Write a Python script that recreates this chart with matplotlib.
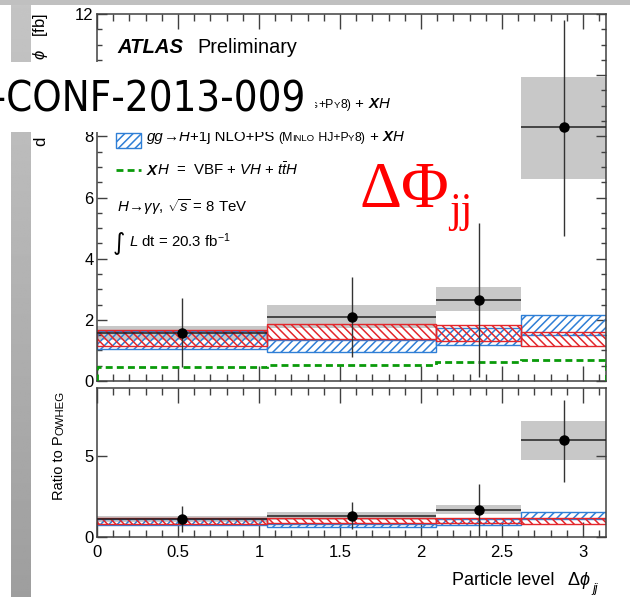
import numpy as np
import matplotlib
matplotlib.use("Agg")
import matplotlib.pyplot as plt
from matplotlib.patches import Rectangle
from matplotlib.lines import Line2D
from matplotlib.ticker import MultipleLocator, FuncFormatter

# ---- measured cross sections in bins of delta-phi_jj ----
edges = np.array([0.0, np.pi / 3, 2 * np.pi / 3, 5 * np.pi / 6, np.pi])
data = np.array([1.57, 2.10, 2.66, 8.30])
tot_lo = np.array([0.46, 0.79, 0.13, 4.75])
tot_hi = np.array([2.72, 3.41, 5.18, 11.80])
sys_lo = np.array([1.34, 1.72, 2.28, 6.62])
sys_hi = np.array([1.81, 2.49, 3.08, 9.93])

# ---- predictions ----
powheg = np.array([1.42, 1.60, 1.58, 1.39])
powheg_lo = np.array([1.14, 1.37, 1.32, 1.13])
powheg_hi = np.array([1.67, 1.87, 1.84, 1.60])
minlo_lo = np.array([1.05, 0.94, 1.18, 1.52])
minlo_hi = np.array([1.62, 1.33, 1.74, 2.16])
xh = np.array([0.47, 0.52, 0.61, 0.69])

RED = "#e3262b"
BLUE = "#2f7fd6"
GREEN = "#0a9a0a"
GREY = "#c8c8c8"
AXC = "#404040"

W, H = 630, 597
plt.rcParams["font.family"] = ["Liberation Sans", "DejaVu Sans"]
plt.rcParams["mathtext.fontset"] = "custom"
plt.rcParams["mathtext.rm"] = "Liberation Sans"
plt.rcParams["mathtext.it"] = "Liberation Sans:italic"
plt.rcParams["mathtext.bf"] = "Liberation Sans:bold"
plt.rcParams["hatch.linewidth"] = 1.1

fig = plt.figure(figsize=(W / 100, H / 100), dpi=100)


def fx(x):
    return x / W


def fy(y):
    return 1 - y / H


centers = 0.5 * (edges[:-1] + edges[1:])
widths = np.diff(edges)
DASH = (0, (2.5, 1.5))


def draw_panel(ax, d, tlo, thi, slo, shi, plo, phi, mlo, mhi, green=None):
    ax.bar(edges[:-1], shi - slo, bottom=slo, width=widths, align="edge",
           color=GREY, lw=0, zorder=1)
    ax.bar(edges[:-1], mhi - mlo, bottom=mlo, width=widths, align="edge",
           fill=False, edgecolor=BLUE, hatch="////", lw=1.0, zorder=2)
    ax.bar(edges[:-1], phi - plo, bottom=plo, width=widths, align="edge",
           fill=False, edgecolor=RED, hatch="\\\\\\\\", lw=1.0, zorder=2)
    if green is not None:
        ax.stairs(green, edges, color=GREEN, lw=2.0, ls=DASH, zorder=3)
    ax.hlines(d, edges[:-1], edges[1:], color="#222222", lw=1.1, zorder=4)
    ax.vlines(centers, tlo, thi, color="#333333", lw=1.0, zorder=4)
    ax.plot(centers, d, "o", color="black", ms=6.5, zorder=5)
    ax.set_xlim(0, np.pi)
    for s in ax.spines.values():
        s.set_color(AXC)
        s.set_linewidth(1.1)
    ax.xaxis.set_major_locator(MultipleLocator(0.5))
    ax.xaxis.set_minor_locator(MultipleLocator(0.1))
    ax.tick_params(which="both", direction="in", top=True, right=True,
                   colors=AXC, labelcolor="black", labelsize=12, width=1.0)
    ax.tick_params(axis="x", which="major", length=10.5, pad=6)
    ax.tick_params(axis="x", which="minor", length=5)
    ax.tick_params(axis="y", which="major", length=7, pad=2.5)
    ax.tick_params(axis="y", which="minor", length=3.6)


# ---- upper panel: cross section ----
ax1 = fig.add_axes([fx(97), fy(381), 509 / W, 367 / H])
draw_panel(ax1, data, tot_lo, tot_hi, sys_lo, sys_hi,
           powheg_lo, powheg_hi, minlo_lo, minlo_hi, green=xh)
ax1.set_ylim(0, 12)
ax1.yaxis.set_major_locator(MultipleLocator(2))
ax1.yaxis.set_minor_locator(MultipleLocator(0.5))
ax1.tick_params(axis="x", labelbottom=False)

# ---- lower panel: ratio to POWHEG ----
ax2 = fig.add_axes([fx(97), fy(537), 509 / W, 149 / H])
draw_panel(ax2, data / powheg, tot_lo / powheg, tot_hi / powheg,
           sys_lo / powheg, sys_hi / powheg, powheg_lo / powheg,
           powheg_hi / powheg, minlo_lo / powheg, minlo_hi / powheg)
ax2.set_ylim(0, 9.2)
ax2.yaxis.set_major_locator(MultipleLocator(5))
ax2.xaxis.set_major_formatter(FuncFormatter(lambda v, p: f"{v:g}"))

renderer = fig.canvas.get_renderer()


def chain(x, y, parts, size, color="black", zorder=12, rot=False):
    """Draw text pieces one after another starting at pixel (x, y)."""
    for s, kw in parts:
        opts = dict(fontsize=size, color=color, zorder=zorder)
        opts.update(kw)
        if rot:
            t = fig.text(fx(x), fy(y), s, rotation=90, rotation_mode="anchor",
                         ha="left", va="baseline", **opts)
            bb = t.get_window_extent(renderer)
            y = H - bb.y1
        else:
            t = fig.text(fx(x), fy(y), s, ha="left", va="baseline", **opts)
            bb = t.get_window_extent(renderer)
            x = bb.x1
    return x, y


IT = dict(fontstyle="italic")
BI = dict(fontstyle="italic", fontweight="bold")
SM = dict(fontsize=8.8)
SC = dict(fontsize=6.8)

# ---- slide frame ----
fig.add_artist(Rectangle((0, fy(5)), 1, 5 / H, transform=fig.transFigure,
                         color="#c0c0c0", lw=0, zorder=8))
bar_ax = fig.add_axes([fx(11), 0, 20 / W, fy(5)], zorder=8)
bar_ax.imshow(np.linspace(0.77, 0.62, 256)[:, None], cmap="gray",
              vmin=0, vmax=1, aspect="auto")
bar_ax.set_axis_off()

# ---- axis titles ----
# y title: lower part runs up from the bottom end, upper part ends at the top
chain(45, 146, [("d", {})], 12, rot=True, zorder=5)
chain(45, 131, [(r"$\sigma_{\mathrm{fid}}$ / d$\Delta$", {})], 12,
      rot=True, zorder=5)
top_part = r"$\phi$   [fb]"
probe = fig.text(0, 0, top_part, fontsize=12, rotation=90)
span = probe.get_window_extent(renderer).height
probe.remove()
chain(45, 13 + span, [(top_part, {})], 12, rot=True, zorder=5)

chain(63, 500, [("Ratio to P", {}), ("OWHEG", dict(fontsize=8.2))], 10.5,
      rot=True)
fig.text(fx(452), fy(585), "Particle level", ha="left", va="baseline",
         fontsize=13)
fig.text(fx(567), fy(585), r"$\mathrm{\Delta}\phi$", ha="left",
         va="baseline", fontsize=13)
fig.text(fx(592), fy(592), "jj", ha="left", va="baseline", fontsize=9,
         fontstyle="italic")

# ---- labels inside the plot ----
fig.text(fx(117), fy(53), "ATLAS", ha="left", va="baseline", fontsize=14.6,
         fontstyle="italic", fontweight="bold")
fig.text(fx(197), fy(53), "Preliminary", ha="left", va="baseline",
         fontsize=14.3)

fig.add_artist(Rectangle((fx(116), fy(110)), 25 / W, 15 / H,
                         transform=fig.transFigure, fill=False,
                         edgecolor=RED, hatch="\\\\\\\\", lw=1.0, zorder=9))
chain(159, 108, [("gg", IT), ("\u2192", {}), ("H", IT),
                 (" NLO+PS ", {}), ("(P", SM), ("OWHEG", SC),
                 ("+P", SM), ("Y", SC), ("8)", SM), (" + ", {}),
                 ("X", BI), ("H", IT)], 10.8, zorder=9)

fig.add_artist(Rectangle((fx(116), fy(148)), 25 / W, 15 / H,
                         transform=fig.transFigure, fill=False,
                         edgecolor=BLUE, hatch="////", lw=1.0, zorder=9))
chain(147, 141, [("gg", IT), ("\u2192", {}), ("H", IT),
                 ("+1j NLO+PS ", {}), ("(M", SM), ("INLO", SC),
                 (" HJ+P", SM), ("Y", SC), ("8)", SM), (" + ", {}),
                 ("X", BI), ("H", IT)], 10.8, zorder=9)

fig.add_artist(Line2D([fx(116), fx(141)], [fy(170), fy(170)],
                      transform=fig.transFigure, color=GREEN, lw=2.0,
                      ls=DASH, zorder=9))
chain(147, 175, [("X", BI), (r"$H$  =  VBF + $VH$ + $t\bar{t}H$", {})],
      10.8, zorder=9)

fig.text(fx(117), fy(212), r"$H\!\rightarrow\!\gamma\gamma$, $\sqrt{s}$ = 8 TeV",
         ha="left", va="baseline", fontsize=10.8)
fig.text(fx(113), fy(250), "\u222b", ha="left", va="baseline", fontsize=17,
         family="DejaVu Sans")
fig.text(fx(129), fy(247), r"$L$ dt = 20.3 fb$^{-1}$",
         ha="left", va="baseline", fontsize=10.8)

# ---- slide annotations ----
fig.add_artist(Rectangle((0, fy(132)), 315 / W, 70 / H,
                         transform=fig.transFigure, color="white", lw=0,
                         zorder=10))
fig.text(fx(306), fy(112), "ATLAS-CONF-2013-009", ha="right", va="baseline",
         fontsize=30, family="DejaVu Sans", fontstretch="condensed",
         zorder=11)
fig.text(fx(360), fy(207), "\u0394\u03a6", ha="left", va="baseline",
         fontsize=47, family="Liberation Serif", color="#ff0000", zorder=11)
fig.text(fx(449), fy(222), "jj", ha="left", va="baseline",
         fontsize=30, family="Liberation Serif", color="#ff0000", zorder=11)

fig.savefig("out.png", dpi=100)
